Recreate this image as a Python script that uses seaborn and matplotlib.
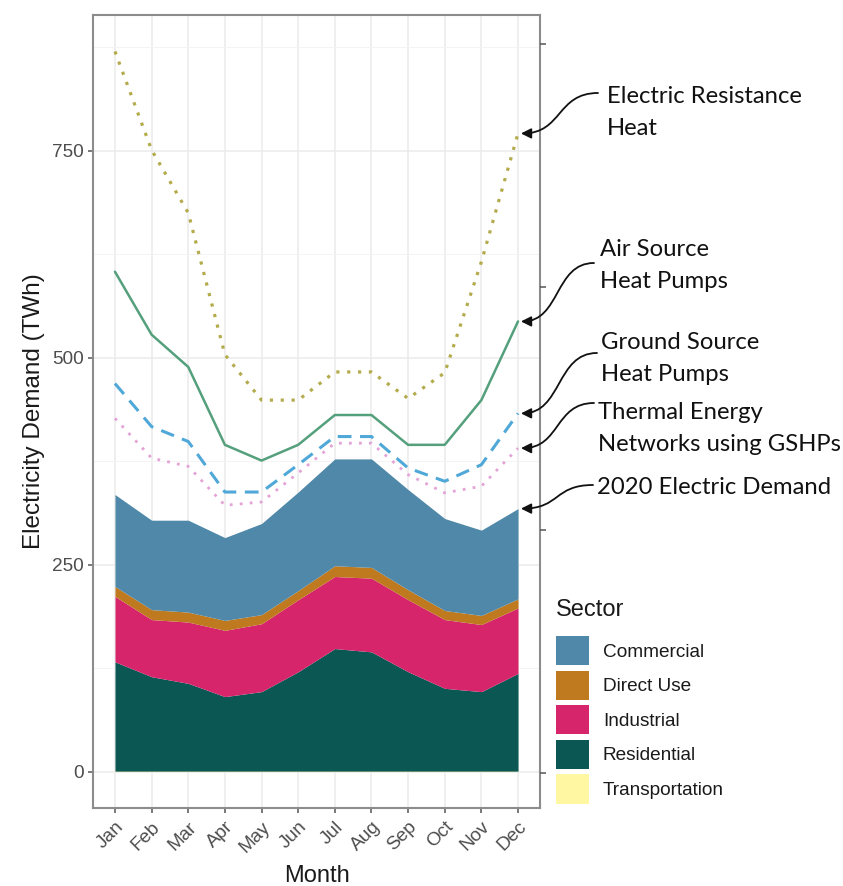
import numpy as np
import pandas as pd
import matplotlib
matplotlib.use("Agg")
import matplotlib.pyplot as plt
import seaborn as sns
from matplotlib.patches import Patch, FancyArrowPatch
from matplotlib.path import Path
from matplotlib.transforms import IdentityTransform

# ---- data (TWh per month) ----
months = ["Jan", "Feb", "Mar", "Apr", "May", "Jun",
          "Jul", "Aug", "Sep", "Oct", "Nov", "Dec"]

# 2020 electric demand by sector (stacked)
transportation = [1, 1, 1, 1, 1, 1, 1, 1, 1, 1, 1, 1]
residential = [132, 114, 106, 90, 96, 120, 148, 144, 120, 100, 96, 118]
industrial = [79, 69, 74, 80, 82, 87, 87, 89, 87, 83, 81, 79]
direct_use = [12, 12, 12, 12, 11, 11, 13, 13, 12, 11, 11, 11]
commercial = [111, 108, 111, 100, 110, 119, 129, 131, 121, 111, 103, 109]

# total demand under full heating electrification scenarios
electric_resistance = [870, 751, 675, 504, 449, 449, 483, 483, 451, 482, 616, 771]
air_source_hp = [604, 528, 489, 395, 376, 395, 431, 431, 395, 395, 449, 544]
ground_source_hp = [469, 417, 399, 338, 338, 371, 405, 405, 367, 351, 371, 433]
thermal_networks = [427, 379, 369, 322, 326, 361, 397, 397, 359, 337, 345, 391]

sector_names = ["Commercial", "Direct Use", "Industrial", "Residential", "Transportation"]
sector_colors = {"Commercial": "#4f88a8", "Direct Use": "#bf7a1f",
                 "Industrial": "#d6256b", "Residential": "#0a5753",
                 "Transportation": "#fff7a1"}

scenario_names = ["Electric Resistance\nHeat", "Air Source\nHeat Pumps",
                  "Ground Source\nHeat Pumps", "Thermal Energy\nNetworks using GSHPs"]
scenario_values = [electric_resistance, air_source_hp, ground_source_hp, thermal_networks]
scenario_colors = ["#b3ab4c", "#55a07c", "#4fa8d8", "#e3a3d6"]
scenario_dashes = [(1.0, 2.4), "", (4.5, 2.8), (1.0, 2.6)]
scenario_widths = [2.3, 1.8, 2.2, 2.0]

# ---- figure ----
sns.set_theme(style="white")
plt.rcParams["font.family"] = ["Liberation Sans", "DejaVu Sans"]

W, H = 843, 886
fig = plt.figure(figsize=(W / 100, H / 100), dpi=100)
ax = fig.add_axes([93 / W, 1 - 808 / H, 447 / W, 793 / H])

x = np.arange(len(months))

# stacked sectors: Transportation at the bottom, Commercial on top
stack_order = ["Transportation", "Residential", "Industrial", "Direct Use", "Commercial"]
stack_vals = {"Transportation": transportation, "Residential": residential,
              "Industrial": industrial, "Direct Use": direct_use,
              "Commercial": commercial}
ax.stackplot(x, *[stack_vals[s] for s in stack_order],
             colors=[sector_colors[s] for s in stack_order], linewidth=0, zorder=2)
total_2020 = np.sum([stack_vals[s] for s in stack_order], axis=0)

# scenario lines
long = pd.DataFrame({
    "month": np.tile(x, len(scenario_names)),
    "demand": np.concatenate(scenario_values),
    "scenario": np.repeat(scenario_names, len(months)),
})
for name, col, dsh, lw in zip(scenario_names, scenario_colors, scenario_dashes, scenario_widths):
    sub = long[long["scenario"] == name]
    sns.lineplot(data=sub, x="month", y="demand", color=col, linewidth=lw,
                 ax=ax, legend=False, zorder=3)
    ln = ax.lines[-1]
    if dsh:
        ln.set_dashes(dsh)
    ln.set_dash_capstyle("butt")

# axes styling
ax.set_xlim(-0.6, 11.6)
ax.set_ylim(-43.5, 914)
ax.set_xticks(x)
ax.set_xticklabels(months, rotation=45, ha="right", va="top", rotation_mode="anchor")
ax.set_yticks([0, 250, 500, 750])
ax.set_yticks([125, 375, 625, 875], minor=True)
ax.grid(True, which="major", color="#ebebeb", linewidth=1.1, zorder=0)
ax.grid(True, which="minor", axis="y", color="#f3f3f3", linewidth=0.6, zorder=0)
ax.set_axisbelow(True)
for sp in ax.spines.values():
    sp.set_visible(True)
    sp.set_color("#8c8c8c")
    sp.set_linewidth(1.5)
ax.tick_params(axis="both", which="major", length=3.5, width=1.1, color="#555555",
               labelcolor="#4d4d4d", labelsize=13.7, pad=3, bottom=True, left=True)
ax.tick_params(axis="x", which="major", pad=4)
ax.tick_params(axis="y", which="minor", length=0)
ax.set_xlabel("Month", fontsize=17, color="#1a1a1a", labelpad=7)
ax.set_ylabel("Electricity Demand (TWh)", fontsize=17.5, color="#1a1a1a", labelpad=5)

# small ticks on the right edge
ax_r = ax.twinx()
ax_r.set_ylim(ax.get_ylim())
ax_r.set_yticks([-1, 292, 586, 879])
ax_r.set_yticklabels([])
ax_r.tick_params(axis="y", length=4, width=1.1, color="#555555", right=True)
for sp in ax_r.spines.values():
    sp.set_visible(False)

# legend
fig.text(556 / W, 1 - 610 / H, "Sector", fontsize=17, color="#1a1a1a",
         ha="left", va="center")
handles = [Patch(facecolor=sector_colors[s], edgecolor="none") for s in sector_names]
leg = fig.legend(handles, sector_names, loc="upper left",
                 bbox_to_anchor=(556 / W, 1 - 636 / H), frameon=False,
                 fontsize=13.7, handlelength=1.75,
                 handleheight=2.0, labelspacing=0.27, handletextpad=0.72,
                 borderpad=0, borderaxespad=0)
for t in leg.get_texts():
    t.set_color("#1a1a1a")

# scenario labels with curved arrows to the December values
fig.canvas.draw()
label_font = ["Lato", "DejaVu Sans"]
notes = [
    ("Electric Resistance\nHeat", electric_resistance[-1], (607, 86), (598, 93)),
    ("Air Source\nHeat Pumps", air_source_hp[-1], (600, 239), (594, 263)),
    ("Ground Source\nHeat Pumps", ground_source_hp[-1], (601, 332), (597, 353)),
    ("Thermal Energy\nNetworks using GSHPs", thermal_networks[-1], (598, 402), (594, 403)),
    ("2020 Electric Demand", total_2020[-1], (597, 477), (593, 485)),
]
for text, val, (tx, ty), (sx, sy) in notes:
    fig.text(tx / W, 1 - ty / H, text, fontsize=17.2, family=label_font,
             color="#111111", ha="left", va="top", linespacing=1.63)
    tip = ax.transData.transform((11.08, val))
    start = np.array([sx, H - sy], dtype=float)
    bend = 0.5 * (start[0] - tip[0]) + 3
    verts = [start, (start[0] - bend, start[1]), (tip[0] + bend, tip[1]), tip]
    path = Path(verts, [Path.MOVETO, Path.CURVE4, Path.CURVE4, Path.CURVE4])
    arrow = FancyArrowPatch(path=path, arrowstyle="-|>,head_length=0.5,head_width=0.25",
                            mutation_scale=12, color="#111111", linewidth=1.3,
                            transform=IdentityTransform())
    fig.add_artist(arrow)

fig.savefig("out.png", dpi=100, facecolor="white")
